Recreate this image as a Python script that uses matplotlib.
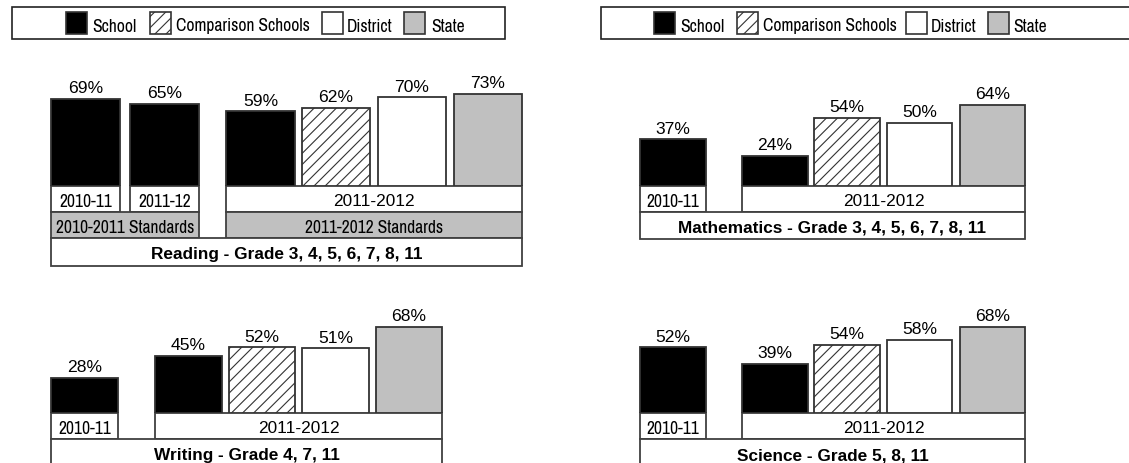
import matplotlib
matplotlib.use('Agg')
import matplotlib.pyplot as plt
from matplotlib.patches import Rectangle
from matplotlib import font_manager

# ---------------- data ----------------
legend_labels = ['School', 'Comparison Schools', 'District', 'State']

reading_values = [69, 65, 59, 62, 70, 73]
reading_series = ['School', 'School', 'School', 'Comparison Schools', 'District', 'State']
reading_years = ['2010-11', '2011-12', '2011-2012']
reading_standards = ['2010-2011 Standards', '2011-2012 Standards']
reading_title = 'Reading - Grade 3, 4, 5, 6, 7, 8, 11'

math_values = [37, 24, 54, 50, 64]
math_series = ['School', 'School', 'Comparison Schools', 'District', 'State']
math_years = ['2010-11', '2011-2012']
math_title = 'Mathematics - Grade 3, 4, 5, 6, 7, 8, 11'

writing_values = [28, 45, 52, 51, 68]
writing_series = ['School', 'School', 'Comparison Schools', 'District', 'State']
writing_years = ['2010-11', '2011-2012']
writing_title = 'Writing - Grade 4, 7, 11'

science_values = [52, 39, 54, 58, 68]
science_series = ['School', 'School', 'Comparison Schools', 'District', 'State']
science_years = ['2010-11', '2011-2012']
science_title = 'Science - Grade 5, 8, 11'

# ---------------- styles / layout ----------------
W, H = 1129, 464
SCALE = 1.265  # pixels per percentage point
EDGE = '#333333'
BOXEDGE = '#404040'
GRAY = '#c0c0c0'
STYLE = {
    'School': dict(facecolor='black', hatch=None),
    'Comparison Schools': dict(facecolor='white', hatch='///'),
    'District': dict(facecolor='white', hatch=None),
    'State': dict(facecolor=GRAY, hatch=None),
}

names = {f.name for f in font_manager.fontManager.ttflist}
REG = 'Liberation Sans' if 'Liberation Sans' in names else 'DejaVu Sans'
NARROW, NSIZE = REG, 10.6
for cand, size in [('Liberation Sans Narrow', 12.6), ('Archivo Narrow', 12.6),
                   ('Roboto Condensed', 11.7), ('PT Sans Narrow', 12.6)]:
    if cand in names:
        NARROW, NSIZE = cand, size
        break

plt.rcParams['hatch.linewidth'] = 0.8
plt.rcParams['hatch.color'] = 'black'

fig = plt.figure(figsize=(W / 100, H / 100), dpi=100)
ov = fig.add_axes([0, 0, 1, 1])
ov.set_xlim(0, W)
ov.set_ylim(H, 0)
ov.axis('off')
ov.set_zorder(0)


def box(x0, x1, y0, y1, fc='white', ec=BOXEDGE, lw=1.3):
    ov.add_patch(Rectangle((x0, y0), x1 - x0, y1 - y0, facecolor=fc,
                           edgecolor=ec, linewidth=lw, clip_on=False))


def label(x0, x1, y0, y1, text, narrow=False, bold=False):
    if narrow:
        kw = dict(family=NARROW, fontsize=NSIZE)
    else:
        kw = dict(family=REG, fontsize=12.4, fontweight='bold' if bold else 'normal')
    ov.text((x0 + x1) / 2, (y0 + y1) / 2 + 0.5, text, ha='center',
            va='center_baseline', color='black', **kw)


def legend(x0, x1, swatch_x, text_x):
    ov.add_patch(Rectangle((x0, 8), x1 - x0, 32, facecolor='white',
                           edgecolor='#222222', linewidth=1.2, clip_on=False))
    for name, sx, tx in zip(legend_labels, swatch_x, text_x):
        st = STYLE[name]
        ov.add_patch(Rectangle((sx, 13), 20.5, 22, facecolor=st['facecolor'],
                               hatch=st['hatch'], edgecolor=EDGE, linewidth=1.2))
        ov.text(tx, 31.5, name, ha='left', va='baseline', family=NARROW,
                fontsize=NSIZE, color='black')


def panel(baseline, lefts, rights, values, series):
    ax = fig.add_axes([0, (H - baseline) / H, 1, 100 * SCALE / H])
    ax.set_xlim(0, W)
    ax.set_ylim(0, 100)
    ax.axis('off')
    ax.set_zorder(1)
    centers = [(l + r) / 2 for l, r in zip(lefts, rights)]
    widths = [r - l for l, r in zip(lefts, rights)]
    for c, w, v, s in zip(centers, widths, values, series):
        st = STYLE[s]
        ax.bar(c, v, width=w, facecolor=st['facecolor'], hatch=st['hatch'],
               edgecolor=EDGE, linewidth=1.3)
        ax.annotate(f'{v}%', (c, v), xytext=(0, 4.8), textcoords='offset points',
                    ha='center', va='baseline', family=REG, fontsize=12.6,
                    color='black', annotation_clip=False)
    return ax


# legends
legend(12, 505, [66, 150, 322, 404], [92, 176, 347, 431])
legend(601, 1140, [654, 737, 906, 988], [680, 763, 931, 1013])

# Reading
r_l = [51, 130, 226, 302, 378, 454]
r_r = [120, 199, 295, 370, 446, 522]
panel(187, r_l, r_r, reading_values, reading_series)
box(51, 120, 187, 213); label(51, 120, 187, 213, reading_years[0], narrow=True)
box(130, 199, 187, 213); label(130, 199, 187, 213, reading_years[1], narrow=True)
box(226, 522, 187, 213); label(226, 522, 187, 213, reading_years[2])
box(51, 199, 213, 239, fc=GRAY); label(51, 199, 213, 239, reading_standards[0], narrow=True)
box(226, 522, 213, 239, fc=GRAY); label(226, 522, 213, 239, reading_standards[1], narrow=True)
box(51, 522, 239, 267); label(51, 522, 239, 267, reading_title, bold=True)

# Mathematics
m_l = [640, 742, 814, 887, 960]
m_r = [706, 808, 880, 952, 1025]
panel(187, m_l, m_r, math_values, math_series)
box(640, 706, 187, 213); label(640, 706, 187, 213, math_years[0], narrow=True)
box(742, 1025, 187, 213); label(742, 1025, 187, 213, math_years[1])
box(640, 1025, 213, 240); label(640, 1025, 213, 240, math_title, bold=True)

# Writing
w_l = [51, 155, 229, 302, 376]
w_r = [118, 222, 295, 369, 442]
panel(414, w_l, w_r, writing_values, writing_series)
box(51, 118, 414, 440); label(51, 118, 414, 440, writing_years[0], narrow=True)
box(155, 442, 414, 440); label(155, 442, 414, 440, writing_years[1])
box(51, 442, 440, 468); label(51, 442, 440, 468, writing_title, bold=True)

# Science
panel(414, m_l, m_r, science_values, science_series)
box(640, 706, 414, 440); label(640, 706, 414, 440, science_years[0], narrow=True)
box(742, 1025, 414, 440); label(742, 1025, 414, 440, science_years[1])
box(640, 1025, 440, 468); label(640, 1025, 440, 468, science_title, bold=True)

fig.savefig('out.png', dpi=100, facecolor='white')
